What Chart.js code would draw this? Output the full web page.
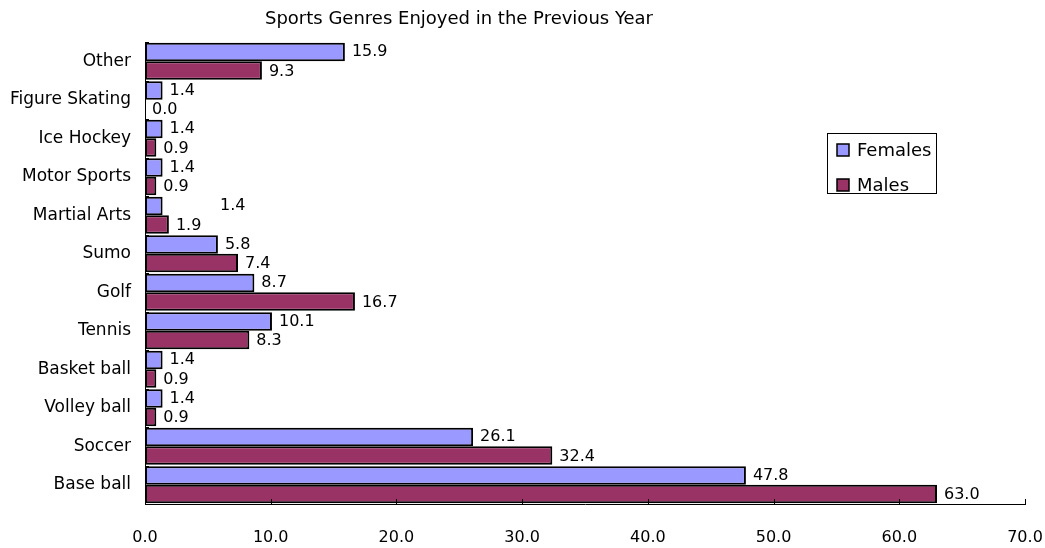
<!DOCTYPE html>
<html>
<head>
<meta charset="utf-8">
<script src="https://cdn.jsdelivr.net/npm/chart.js@4.4.1/dist/chart.umd.min.js"></script>
<style>
  html, body { margin: 0; padding: 0; background: #fff; }
  canvas { display: block; }
</style>
</head>
<body>
<canvas id="chart" width="1045" height="548"></canvas>
<script>
const categories = ["Other", "Figure Skating", "Ice Hockey", "Motor Sports", "Martial Arts", "Sumo", "Golf", "Tennis", "Basket ball", "Volley ball", "Soccer", "Base ball"];
const females = [15.9, 1.4, 1.4, 1.4, 1.4, 5.8, 8.7, 10.1, 1.4, 1.4, 26.1, 47.8];
const males = [9.3, 0.0, 0.9, 0.9, 1.9, 7.4, 16.7, 8.3, 0.9, 0.9, 32.4, 63.0];
const xTicks = [0, 10, 20, 30, 40, 50, 60, 70];

const titleText = "Sports Genres Enjoyed in the Previous Year";
const FONT = "'DejaVu Sans', sans-serif";

// labels, title, legend and inward tick marks drawn by hand
const decorPlugin = {
  id: "decor",
  afterDatasetsDraw(chart) {
    const ctx = chart.ctx;
    const area = chart.chartArea;
    const xScale = chart.scales.x;

    ctx.save();
    ctx.fillStyle = "#000";
    ctx.font = "18px " + FONT;
    ctx.textAlign = "center";
    ctx.textBaseline = "middle";
    ctx.fillText(titleText, 459, 19);

    // value labels
    ctx.font = "16px " + FONT;
    ctx.textAlign = "left";
    chart.data.datasets.forEach((ds, di) => {
      const meta = chart.getDatasetMeta(di);
      meta.data.forEach((bar, i) => {
        let x = bar.x + 7;
        // Excel put this one label off to the side
        if (di === 0 && categories[i] === "Martial Arts") x = 220;
        ctx.fillText(ds.data[i].toFixed(1), x, bar.y + (di === 0 ? 0 : 1));
      });
    });

    // tick marks pointing up from the x axis
    ctx.strokeStyle = "#000";
    ctx.lineWidth = 1;
    ctx.beginPath();
    xTicks.forEach(v => {
      const px = Math.round(xScale.getPixelForValue(v)) + 0.5;
      ctx.moveTo(px, area.bottom);
      ctx.lineTo(px, area.bottom - 5);
    });
    // small ticks on the category axis
    const step = (area.bottom - area.top) / categories.length;
    for (let i = 0; i <= categories.length; i++) {
      const py = Math.round(area.top + i * step) + 0.5;
      ctx.moveTo(area.left, py);
      ctx.lineTo(area.left + 4, py);
    }
    ctx.stroke();

    // legend box
    const lx = 827, ly = 133, lw = 109, lh = 60;
    ctx.fillStyle = "#fff";
    ctx.fillRect(lx, ly, lw, lh);
    ctx.strokeRect(lx + 0.5, ly + 0.5, lw, lh);
    chart.data.datasets.forEach((ds, di) => {
      const cy = 150 + di * 35;
      ctx.fillStyle = ds.backgroundColor;
      ctx.fillRect(837, cy - 6, 12, 12);
      ctx.lineWidth = 1.5;
      ctx.strokeRect(837, cy - 6, 12, 12);
      ctx.fillStyle = "#000";
      ctx.font = "18px " + FONT;
      ctx.fillText(ds.label, 857, cy + 1);
    });
    ctx.restore();
  }
};

new Chart(document.getElementById("chart"), {
  type: "bar",
  data: {
    labels: categories,
    datasets: [
      {
        label: "Females",
        data: females,
        backgroundColor: "#9999FF",
        borderColor: "#000",
        borderWidth: 2,
        borderSkipped: false,
        barPercentage: 1,
        categoryPercentage: 0.96
      },
      {
        label: "Males",
        data: males,
        backgroundColor: "#993366",
        borderColor: "#000",
        borderWidth: 2,
        borderSkipped: false,
        barPercentage: 1,
        categoryPercentage: 0.96
      }
    ]
  },
  options: {
    indexAxis: "y",
    responsive: false,
    animation: false,
    devicePixelRatio: 1,
    layout: { padding: { top: 42, right: 20, left: 0, bottom: 0 } },
    plugins: {
      legend: { display: false },
      title: { display: false },
      tooltip: { enabled: false }
    },
    scales: {
      x: {
        min: 0,
        max: 70,
        afterBuildTicks: scale => { scale.ticks = xTicks.map(v => ({ value: v })); },
        afterFit: scale => {
          scale.height = 44;
          scale.paddingLeft = 0;
          scale.paddingRight = 0;
        },
        grid: { display: false, drawTicks: false },
        border: { display: true, color: "#000", width: 1 },
        ticks: {
          padding: 24,
          maxRotation: 0,
          autoSkip: false,
          color: "#000",
          font: { family: FONT, size: 16 },
          callback: v => Number(v).toFixed(1)
        }
      },
      y: {
        afterFit: scale => {
          scale.width = 145;
          scale.paddingTop = 0;
          scale.paddingBottom = 0;
        },
        grid: { display: false, drawTicks: false },
        border: { display: true, color: "#000", width: 1 },
        ticks: {
          padding: 14,
          autoSkip: false,
          color: "#000",
          font: { family: FONT, size: 17 }
        }
      }
    }
  },
  plugins: [decorPlugin]
});
</script>
</body>
</html>
